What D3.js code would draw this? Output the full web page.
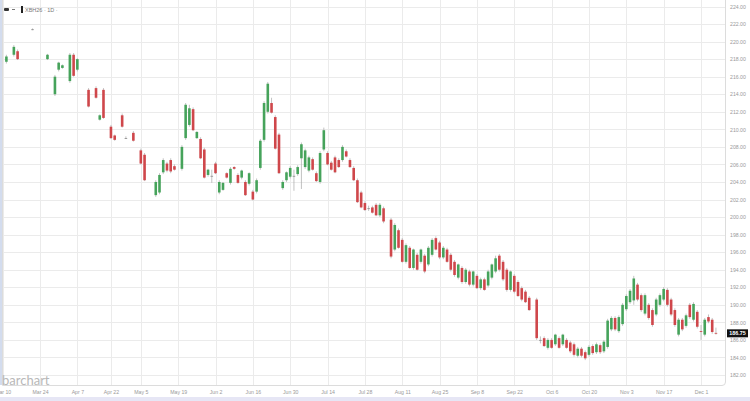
<!DOCTYPE html>
<html>
<head>
<meta charset="utf-8">
<script src="https://cdn.jsdelivr.net/npm/d3@7/dist/d3.min.js"></script>
<style>
  body { margin: 0; background: #fff; }
  svg { display: block; font-family: "Liberation Sans", Arial, sans-serif; }
</style>
</head>
<body>
<script>
// daily candles, day = trading day counted from Mar 10
const day   = [1,3,4,8,12,14,15,16,18,19,20,23,25,26,27,29,30,32,33,35,37,38,41,42,43,44,45,46,48,49,50,51,52,53,54,55,56,57,58,59,60,61,62,63,64,65,66,67,68,69,70,71,72,73,74,75,76,77,78,79,80,81,82,83,84,85,86,87,88,89,90,91,92,93,94,95,96,97,98,99,100,101,102,104,105,106,107,108,109,110,111,112,113,114,115,116,117,118,119,120,121,122,123,124,125,126,127,128,129,130,131,132,133,134,135,136,137,138,139,140,141,
  143,144,145,146,147,148,149,150,151,152,153,154,155,156,157,158,159,160,161,162,163,164,165,166,167,168,169,170,171,172,173,174,175,176,177,178,179,180,181,182,183,184,185,186,187,188,189,190,191];
const open  = [217.7,218.5,218.9,221.4,218.0,214.0,216.8,217.0,215.5,218.5,216.8,214.5,214.7,211.1,214.5,210.3,209.3,211.6,209.0,209.6,207.6,207.1,202.5,202.8,205.1,206.1,206.5,205.8,205.5,209.0,210.5,212.3,209.0,208.9,207.7,204.8,204.7,206.1,202.8,203.1,205.0,203.9,205.7,204.8,204.5,204.0,203.8,202.9,202.9,205.6,208.8,212.0,213.0,211.4,209.4,203.3,204.2,204.6,204.7,204.9,206.7,205.7,205.3,206.6,205.0,204.0,207.7,207.3,206.2,206.8,206.5,206.5,207.5,206.5,205.6,204.2,202.8,201.6,201.0,201.1,201.4,200.2,201.0,199.7,196.3,198.5,197.4,194.9,196.5,194.2,195.7,194.9,195.6,194.6,195.7,197.6,197.1,195.4,196.3,195.7,194.9,193.1,194.2,192.6,193.8,192.3,193.3,191.9,192.9,192.2,193.1,193.8,195.6,194.9,194.0,191.7,193.3,192.6,191.9,191.5,190.8,
  190.6,186.0,186.2,185.1,186.0,185.5,186.2,185.5,186.0,185.7,185.5,184.2,185.0,184.6,184.3,185.3,184.6,185.4,184.7,185.2,187.2,188.5,187.0,187.8,189.5,190.3,190.5,192.3,191.1,189.0,190.0,189.4,188.9,190.0,190.6,191.7,190.6,189.4,186.6,188.3,187.6,190.0,188.3,189.2,187.0,186.6,188.6,188.3,186.8];
const high  = [218.5,219.6,219.1,221.5,218.6,216.2,217.7,217.4,218.7,218.7,218.1,214.7,214.9,211.7,214.7,210.5,209.4,211.8,209.2,209.8,207.8,207.3,204.2,205.0,206.7,206.3,206.7,206.0,208.2,213.0,212.8,212.5,209.8,209.1,207.9,205.5,205.4,206.3,204.2,204.0,205.1,205.7,205.8,205.0,205.4,204.2,205.1,203.1,204.4,208.9,213.2,215.4,213.6,211.6,209.6,204.2,205.2,205.8,205.4,205.9,208.5,207.8,207.0,206.8,205.2,207.5,210.2,207.5,206.4,207.0,206.7,208.2,207.7,206.7,205.8,204.4,203.0,201.8,201.3,201.3,201.6,201.6,201.2,199.9,199.3,198.7,197.6,197.0,196.7,196.4,195.9,196.4,195.8,196.7,197.6,197.8,197.3,196.7,196.5,195.9,195.1,194.7,194.4,194.2,194.0,193.9,193.5,193.1,193.1,194.0,194.7,195.6,195.8,195.1,194.2,193.9,193.5,192.8,192.1,191.7,191.0,
  190.8,186.4,186.4,186.2,186.2,186.7,186.4,186.7,186.2,185.9,185.7,185.2,185.2,184.8,185.4,185.5,185.7,185.6,186.0,188.4,188.7,188.7,188.8,190.2,191.2,191.8,193.3,192.5,191.3,191.3,190.2,189.6,190.8,191.3,192.0,191.9,190.8,189.6,188.5,188.5,189.0,190.2,190.3,189.4,187.7,188.5,188.9,188.5,187.4];
const low   = [217.5,218.3,217.9,221.3,217.9,213.8,216.6,216.9,215.3,216.0,216.6,212.5,213.5,211.0,211.2,208.9,208.7,210.2,208.9,208.6,206.0,204.1,202.3,202.6,204.9,205.1,205.0,205.3,205.3,208.8,210.3,209.8,208.9,206.6,204.4,204.6,203.9,204.9,202.6,203.0,204.4,203.7,205.4,203.8,204.3,202.4,203.6,201.9,202.7,205.4,208.6,211.8,211.8,207.7,204.9,203.1,204.0,204.4,203.0,204.7,203.2,205.5,205.1,205.3,204.0,203.8,207.5,205.9,205.3,205.0,205.6,206.3,206.8,205.6,204.1,201.6,201.0,200.7,200.7,200.4,200.1,200.0,199.3,195.3,196.1,196.4,194.8,194.7,194.1,194.0,193.9,194.7,193.6,194.4,195.5,196.2,195.2,195.2,194.8,193.8,193.2,192.9,192.4,192.4,192.1,192.1,191.8,191.7,191.6,192.0,192.9,193.6,193.8,192.7,191.5,191.5,191.3,190.9,190.4,190.2,189.3,
  186.0,185.6,185.2,184.9,185.0,185.3,185.0,185.3,185.0,184.5,184.1,184.0,184.0,183.7,184.1,184.3,184.4,184.4,184.5,185.0,187.0,187.0,186.8,187.6,189.3,190.1,190.0,190.4,189.2,188.8,188.3,187.5,188.7,189.8,190.4,189.8,188.7,187.5,186.4,187.0,187.4,188.4,188.1,187.3,186.0,186.4,187.9,186.7,186.6];
const close = [218.3,219.4,218.0,221.4,218.5,216.0,217.6,217.3,218.5,216.1,218.0,212.6,213.6,211.6,211.3,209.0,208.8,210.3,209.0,208.7,206.1,204.2,204.0,204.8,206.5,205.3,205.2,205.4,208.0,212.8,212.4,209.9,209.7,206.7,204.5,205.4,204.7,205.0,204.0,203.9,204.5,205.5,205.5,203.9,205.3,202.5,205.0,202.0,204.2,208.7,213.0,215.2,211.9,207.8,205.0,204.0,205.1,205.6,204.7,205.7,208.3,207.6,206.8,205.4,204.1,207.3,209.9,206.0,205.4,205.1,205.7,208.0,206.9,205.7,204.2,201.7,201.1,200.8,201.0,200.5,200.2,201.4,199.5,195.5,199.1,196.5,194.9,196.8,194.2,196.3,194.0,196.3,193.8,196.5,197.4,196.3,195.4,196.5,194.9,194.0,193.4,194.6,192.6,194.0,192.3,193.8,191.9,192.9,191.7,193.8,194.6,195.3,194.0,192.9,191.7,193.8,191.5,191.0,190.6,190.3,189.4,
  186.2,186.0,185.3,186.0,185.1,186.6,185.1,186.6,185.1,184.7,184.3,185.0,184.2,183.9,185.2,184.5,185.5,184.6,185.8,188.2,188.5,187.2,188.6,190.0,191.0,191.6,193.0,190.6,189.4,191.1,188.5,187.7,190.6,191.1,191.8,190.0,188.9,187.7,188.3,187.2,188.8,188.6,190.1,187.5,186.9,188.3,188.1,186.9,186.75];

const yTicks = [224,222,220,218,216,214,212,210,208,206,204,202,200,198,196,194,192,190,188,186,184,182];
const tickDays = [0,10,20,29,37,47,57,67,77,87,97,107,117,127,137,147,157,167,177,187];
const tickLabels = ["Mar 10","Mar 24","Apr 7","Apr 22","May 5","May 19","Jun 2","Jun 16","Jun 30","Jul 14","Jul 28","Aug 11","Aug 25","Sep 8","Sep 22","Oct 6","Oct 20","Nov 3","Nov 17","Dec 1"];
const lastPrice = 186.75;
const symbol = "XBH26 · 1D ·";

const w = 750;
const h = 401;
const m = { top: 0, right: 25, bottom: 16, left: 2 };
const plotR = w - m.right;
const plotB = h - m.bottom;

const up = "#46a35b";
const down = "#cf474b";

const svg = d3.select("body").append("svg")
  .attr("width", w)
  .attr("height", h);

const x = d3.scaleLinear().domain([10, 187]).range([40, 701]);
const y = d3.scaleLinear().domain([182, 224]).range([375, 6.5]);

// bottom strip
svg.append("rect").attr("x", 0).attr("y", h - 4).attr("width", w).attr("height", 4).attr("fill", "#e6e6f5");

// grid
svg.append("g").selectAll("line").data(yTicks).enter().append("line")
  .attr("x1", m.left).attr("x2", plotR)
  .attr("y1", d => Math.round(y(d)) + 0.5).attr("y2", d => Math.round(y(d)) + 0.5)
  .attr("stroke", "#ebebeb").attr("stroke-width", 1);

svg.append("g").selectAll("line").data(tickDays).enter().append("line")
  .attr("x1", d => Math.round(x(d)) + 0.5).attr("x2", d => Math.round(x(d)) + 0.5)
  .attr("y1", 0).attr("y2", plotB)
  .attr("stroke", "#ebebeb").attr("stroke-width", 1);

// frame
svg.append("path")
  .attr("d", `M${m.left + 0.5},0 V${plotB + 0.5} H${plotR - 3} Q${plotR + 0.5},${plotB + 0.5} ${plotR + 0.5},${plotB - 3} V0`)
  .attr("fill", "none").attr("stroke", "#dcdcdc");
svg.append("line").attr("x1", 1).attr("x2", 1).attr("y1", 0).attr("y2", plotB)
  .attr("stroke", "#d3dcee").attr("stroke-width", 2);

// axes
const yAxis = d3.axisRight(y).tickValues(yTicks).tickSize(0).tickPadding(0).tickFormat(d3.format(".2f"));
const gy = svg.append("g").attr("transform", `translate(${plotR + 5},0)`).call(yAxis);
gy.select(".domain").remove();
gy.selectAll("text").attr("font-size", 5.2).attr("fill", "#9a9a9a").attr("font-family", "Liberation Sans, Arial, sans-serif");

const xAxis = d3.axisBottom(x).tickValues(tickDays).tickSize(0).tickPadding(0).tickFormat((d, i) => tickLabels[i]);
const gx = svg.append("g").attr("transform", `translate(0,${plotB + 5})`).call(xAxis);
gx.select(".domain").remove();
gx.selectAll("text").attr("font-size", 5.2).attr("fill", "#9a9a9a").attr("font-family", "Liberation Sans, Arial, sans-serif");

// candles
const candles = svg.append("g").selectAll("g").data(day).enter().append("g");

candles.append("line")
  .attr("x1", d => x(d)).attr("x2", d => x(d))
  .attr("y1", (d, i) => y(high[i])).attr("y2", (d, i) => y(low[i]))
  .attr("stroke", "#a8a8a8").attr("stroke-width", 0.7);

candles.append("rect")
  .attr("x", d => x(d) - 1.3)
  .attr("width", 2.6)
  .attr("y", (d, i) => y(Math.max(open[i], close[i])))
  .attr("height", (d, i) => Math.max(0.8, Math.abs(y(open[i]) - y(close[i]))))
  .attr("fill", (d, i) => close[i] > open[i] ? up : close[i] < open[i] ? down : "#8a8a8a");

// last price tag
const py = y(lastPrice);
svg.append("rect").attr("x", plotR + 2).attr("y", py - 4).attr("width", 21).attr("height", 8).attr("fill", "#111");
svg.append("text").attr("x", plotR + 12.5).attr("y", py + 2).attr("text-anchor", "middle")
  .attr("font-size", 5.4).attr("font-weight", "bold").attr("fill", "#fff").text(d3.format(".2f")(lastPrice));

// title
const t = svg.append("g");
t.append("rect").attr("x", 4).attr("y", 8).attr("width", 5).attr("height", 3).attr("rx", 1).attr("fill", "#333");
t.append("line").attr("x1", 12).attr("x2", 15).attr("y1", 9.5).attr("y2", 9.5).attr("stroke", "#777");
t.append("rect").attr("x", 21).attr("y", 6).attr("width", 2).attr("height", 7).attr("fill", "#222");
t.append("text").attr("x", 25).attr("y", 11.5).attr("font-size", 5.5).attr("fill", "#777").text(symbol);

// watermark
svg.append("text").attr("x", 2).attr("y", 385)
  .attr("font-family", "Lato, 'Open Sans', sans-serif").attr("font-size", 13)
  .attr("fill", "#b8b8b8").text("barchart");
</script>
</body>
</html>
